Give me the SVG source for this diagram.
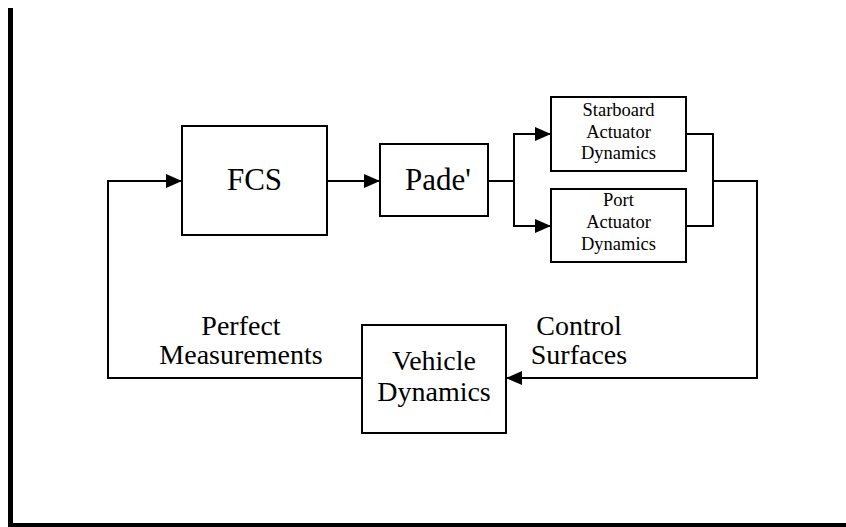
<svg xmlns="http://www.w3.org/2000/svg" width="846" height="527" viewBox="0 0 846 527">
<style>
.box{fill:#fff;stroke:#000;stroke-width:2}
.ln{fill:none;stroke:#000;stroke-width:2}
.t{font-family:"Liberation Serif","Times New Roman",serif;fill:#000;text-anchor:middle}
.big{font-size:31px}
.mid{font-size:28px}
.sm{font-size:18.5px}
</style>
<defs>
<marker id="arr" markerUnits="userSpaceOnUse" markerWidth="16" markerHeight="14" refX="16" refY="7" orient="auto">
<path d="M0,0 L16,7 L0,14 z" fill="#000"/>
</marker>
</defs>
<rect width="846" height="527" fill="#fff"/>
<g id="frame">
<rect x="8" y="8" width="5" height="519" fill="#000"/>
<rect x="8" y="523" width="838" height="4" fill="#000"/>
</g>
<g id="connectors">
<polyline class="ln" points="362,378 108,378 108,181 182,181" marker-end="url(#arr)"/>
<line class="ln" x1="327" y1="181" x2="380" y2="181" marker-end="url(#arr)"/>
<polyline class="ln" points="488,181 514,181"/>
<polyline class="ln" points="514,134 514,226"/>
<line class="ln" x1="513" y1="134" x2="551" y2="134" marker-end="url(#arr)"/>
<line class="ln" x1="513" y1="226" x2="551" y2="226" marker-end="url(#arr)"/>
<polyline class="ln" points="686,134 713,134 713,226 686,226"/>
<polyline class="ln" points="713,181 757,181 757,378 506,378" marker-end="url(#arr)"/>
</g>
<g id="fcs">
<rect class="box" x="182" y="126" width="145" height="109"/>
<text class="t big" x="254.5" y="190">FCS</text>
</g>
<g id="pade">
<rect class="box" x="380" y="144" width="108" height="72"/>
<text class="t big" x="438" y="190">Pade'</text>
</g>
<g id="starboard">
<rect class="box" x="551" y="97" width="135" height="74"/>
<text class="t sm" x="618.5" y="116">Starboard</text>
<text class="t sm" x="618.5" y="137.5">Actuator</text>
<text class="t sm" x="618.5" y="159">Dynamics</text>
</g>
<g id="port">
<rect class="box" x="551" y="189" width="135" height="73"/>
<text class="t sm" x="618.5" y="206">Port</text>
<text class="t sm" x="618.5" y="228">Actuator</text>
<text class="t sm" x="618.5" y="250">Dynamics</text>
</g>
<g id="vehicle">
<rect class="box" x="362" y="325" width="144" height="108"/>
<text class="t mid" x="434" y="370">Vehicle</text>
<text class="t mid" x="434" y="401">Dynamics</text>
</g>
<g id="labels">
<text class="t mid" x="241" y="335">Perfect</text>
<text class="t mid" x="241" y="364">Measurements</text>
<text class="t mid" x="579" y="335">Control</text>
<text class="t mid" x="579" y="364">Surfaces</text>
</g>
</svg>
